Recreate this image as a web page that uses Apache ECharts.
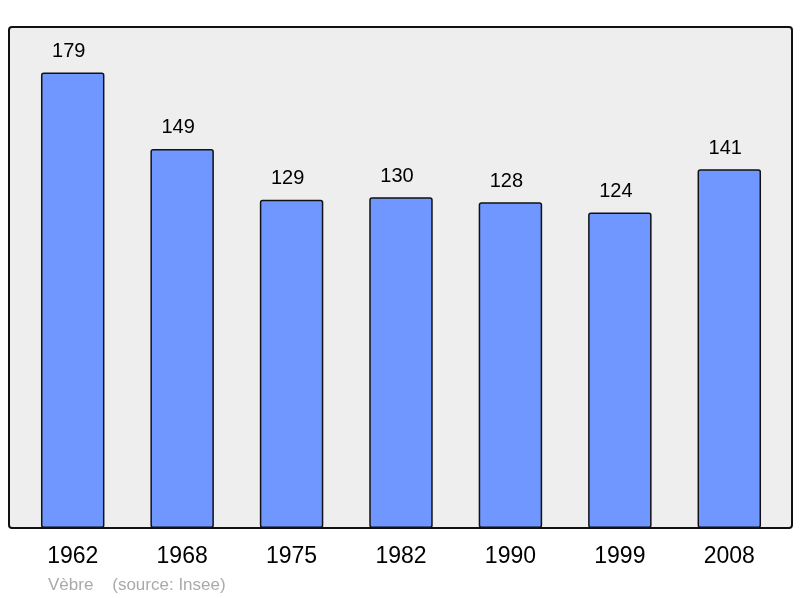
<!DOCTYPE html>
<html><head><meta charset="utf-8">
<script src="https://cdn.jsdelivr.net/npm/echarts@6/dist/echarts.min.js"></script>
<style>html,body{margin:0;padding:0;background:#fff}#c{width:800px;height:598px}</style>
</head><body><div id="c"></div>
<script>
const categories = ['1962','1968','1975','1982','1990','1999','2008'];
const values = [179,149,129,130,128,124,141];
const titleText = 'Vèbre    (source: Insee)';

const chart = echarts.init(document.getElementById('c'), null, {renderer:'canvas'});
chart.setOption({
  animation:false,
  backgroundColor:'#ffffff',
  textStyle:{fontFamily:'Liberation Sans, Arial, sans-serif'},
  title:{text:titleText,left:43,top:572,padding:5,textStyle:{fontSize:17,fontWeight:'normal',color:'#aaaaaa',fontFamily:'Liberation Sans, Arial, sans-serif'}},
  graphic:[{type:'rect',z:-10,shape:{x:9,y:27,width:783,height:501,r:3},style:{fill:'#eeeeee',stroke:'#111111',lineWidth:2}}],
  grid:{left:18,right:16,top:27,bottom:70,containLabel:false},
  xAxis:{type:'category',data:categories,axisLine:{show:false},axisTick:{show:false},
    axisLabel:{fontSize:23,color:'#000',margin:17,fontFamily:'Liberation Sans, Arial, sans-serif'}},
  yAxis:{type:'value',min:0,max:196.9,show:false,splitLine:{show:false}},
  series:[{type:'bar',data:values,barWidth:'58%',
    itemStyle:{color:'#7097ff',borderColor:'#111111',borderWidth:1.5,borderRadius:2},
    label:{show:true,position:'top',distance:11,offset:[-4,0],fontSize:20,color:'#000',fontFamily:'Liberation Sans, Arial, sans-serif'}}]
});
</script></body></html>
